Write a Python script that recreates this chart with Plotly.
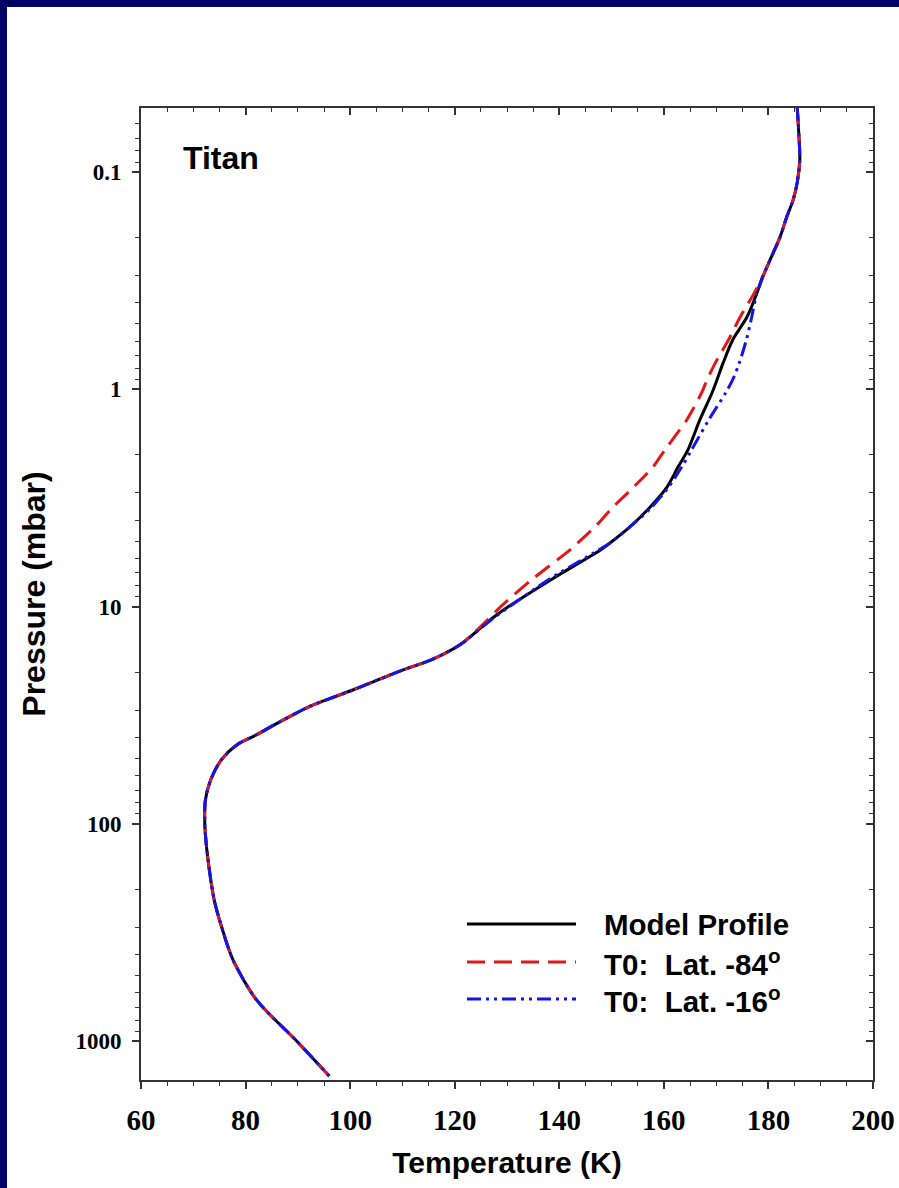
import math
import plotly.graph_objects as go

# ---------------- data ----------------
pressure = [0.05, 0.066, 0.088, 0.112, 0.135, 0.161, 0.2, 0.236, 0.3, 0.36,
            0.465, 0.59, 0.76, 0.9, 1.04, 1.38, 1.9, 2.28, 2.82, 3.5,
            4.3, 5.1, 5.5, 7.5, 10, 11.5, 15, 17.6, 19.6, 24.2,
            29, 35, 39, 43, 51, 63, 78, 100, 132, 224,
            308, 423, 646, 1000, 1445]

t_model = [185.5, 185.8, 186.0, 185.5, 184.7, 183.5, 182.2, 180.9, 179.0, 177.8,
           175.9, 173.2, 171.3, 170.2, 169.2, 166.9, 164.6, 162.7, 160.6, 157.3,
           153.5, 149.7, 147.8, 138.5, 130.3, 126.8, 121.0, 115.5, 110.0, 100.5,
           92.0, 85.5, 82.0, 78.5, 75.3, 73.3, 72.3, 72.2, 72.6, 74.0,
           75.6, 77.6, 82.1, 89.8, 96.0]

t_lat84 = [185.5, 185.8, 186.0, 185.5, 184.7, 183.5, 182.2, 180.9, 179.0, 177.3,
           174.6, 172.4, 169.8, 168.3, 167.2, 164.4, 160.2, 157.9, 154.2, 150.2,
           146.8, 143.5, 142.0, 134.8, 128.8, 126.3, 121.0, 115.5, 110.0, 100.5,
           92.0, 85.5, 82.0, 78.5, 75.3, 73.3, 72.3, 72.2, 72.6, 74.0,
           75.6, 77.6, 82.1, 89.8, 96.0]

t_lat16 = [185.5, 185.8, 186.0, 185.5, 184.7, 183.5, 182.2, 180.9, 179.0, 177.8,
           176.8, 175.8, 174.4, 173.2, 171.8, 168.6, 165.3, 163.4, 160.9, 157.6,
           153.5, 149.7, 147.5, 138.0, 130.5, 127.0, 121.0, 115.5, 110.0, 100.5,
           92.0, 85.5, 82.0, 78.5, 75.3, 73.3, 72.3, 72.2, 72.6, 74.0,
           75.6, 77.6, 82.1, 89.8, 96.0]

series_names = ["Model Profile", "T0:&nbsp; Lat. -84<sup>o</sup>", "T0:&nbsp; Lat. -16<sup>o</sup>"]

x_tickvals = [60, 80, 100, 120, 140, 160, 180, 200]
y_tickvals = [0.1, 1, 10, 100, 1000]
y_ticktext = ["0.1", "1", "10", "100", "1000"]

# ---------------- styling ----------------
NAVY = "#000066"
AXIS = "#333333"
COLORS = ["#000000", "#e01818", "#1414e6"]
DASHES = ["solid", "18px,9px", "14px,5px,3px,5px,3px,5px"]

W, H = 899, 1188
L, R, T, B = 141, 26, 108, 108
PW, PH = W - L - R, H - T - B

y_lo, y_hi = 3.1786, -1.2945  # log10 range (reversed)
y_minor = [m * 10 ** e for e in range(-2, 4) for m in range(2, 10)
           if y_hi <= math.log10(m * 10 ** e) <= y_lo]


def px_x(px):
    return (px - L) / PW


def px_y(py):
    return (H - B - py) / PH


fig = go.Figure()
for t_vals, name, col, dash in zip([t_model, t_lat84, t_lat16], series_names, COLORS, DASHES):
    fig.add_trace(go.Scatter(x=t_vals, y=pressure, mode="lines", name=name,
                             line=dict(color=col, width=3, dash=dash, shape="spline", smoothing=0.8),
                             showlegend=False, hoverinfo="skip"))

# dummy trace for mirrored (inside-tick) axes
fig.add_trace(go.Scatter(x=[None], y=[None], xaxis="x2", yaxis="y2",
                         showlegend=False, hoverinfo="skip"))

xtickfont = dict(family="Liberation Serif", size=29, color="black", weight="bold")
ytickfont = dict(family="Liberation Serif", size=23, color="black", weight="bold")

fig.update_layout(
    width=W, height=H,
    margin=dict(l=L, r=R, t=T, b=B, autoexpand=False),
    paper_bgcolor=NAVY, plot_bgcolor="white",
    showlegend=False,
    xaxis=dict(range=[60, 200], tickmode="array", tickvals=x_tickvals,
               ticks="outside", ticklen=7, tickwidth=2, tickcolor=AXIS,
               showline=True, linecolor=AXIS, linewidth=2, showgrid=False, zeroline=False,
               minor=dict(dtick=5, tick0=0, ticks="outside", ticklen=4, tickwidth=1, tickcolor=AXIS),
               tickfont=xtickfont, ticklabelstandoff=6,
               title=dict(text="Temperature (K)", font=dict(family="Liberation Sans", size=30,
                                                             color="black", weight="bold"), standoff=17)),
    yaxis=dict(type="log", range=[y_lo, y_hi], tickmode="array", tickvals=y_tickvals, ticktext=y_ticktext,
               ticks="outside", ticklen=7, tickwidth=2, tickcolor=AXIS,
               showline=True, linecolor=AXIS, linewidth=2, showgrid=False, zeroline=False,
               minor=dict(tickmode="array", tickvals=y_minor, ticks="outside", ticklen=4,
                          tickwidth=1, tickcolor=AXIS),
               tickfont=ytickfont, ticklabelstandoff=6,
               title=dict(text="Pressure (mbar)", font=dict(family="Liberation Sans", size=32,
                                                             color="black", weight="bold"), standoff=20)),
    xaxis2=dict(overlaying="x", side="top", range=[60, 200], tickmode="array", tickvals=x_tickvals,
                ticks="inside", ticklen=7, tickwidth=2, tickcolor=AXIS, showticklabels=False,
                showline=True, linecolor=AXIS, linewidth=2, showgrid=False, zeroline=False,
                minor=dict(dtick=5, tick0=0, ticks="inside", ticklen=4, tickwidth=1, tickcolor=AXIS)),
    yaxis2=dict(overlaying="y", side="right", type="log", range=[y_lo, y_hi],
                tickmode="array", tickvals=y_tickvals, showticklabels=False,
                ticks="inside", ticklen=7, tickwidth=2, tickcolor=AXIS,
                showline=True, linecolor=AXIS, linewidth=2, showgrid=False, zeroline=False,
                minor=dict(tickmode="array", tickvals=y_minor, ticks="inside", ticklen=4,
                           tickwidth=1, tickcolor=AXIS)),
)

# white page area inside the navy frame
fig.add_shape(type="rect", xref="paper", yref="paper", layer="below",
              x0=px_x(7), x1=px_x(W + 5), y0=px_y(H + 5), y1=px_y(7),
              fillcolor="white", line=dict(width=0))

# "Titan" label
fig.add_annotation(text="Titan", xref="paper", yref="paper", x=px_x(181), y=px_y(158),
                   xanchor="left", yanchor="middle", showarrow=False,
                   font=dict(family="Liberation Sans", size=32, color="black", weight="bold"))

# manual legend
legend_rows = [924, 962, 999]
for name, col, dash, ry in zip(series_names, COLORS, DASHES, legend_rows):
    fig.add_shape(type="line", xref="paper", yref="paper",
                  x0=px_x(467), x1=px_x(576), y0=px_y(ry), y1=px_y(ry),
                  line=dict(color=col, width=3, dash=dash))
    fig.add_annotation(text=name, xref="paper", yref="paper", x=px_x(602), y=px_y(ry),
                       xanchor="left", yanchor="middle", showarrow=False,
                       font=dict(family="Liberation Sans", size=29.5, color="black", weight="bold"))

fig.write_html("out.html", config={"displayModeBar": False},
               post_script="document.body.style.margin='0';document.body.style.overflow='hidden';")
